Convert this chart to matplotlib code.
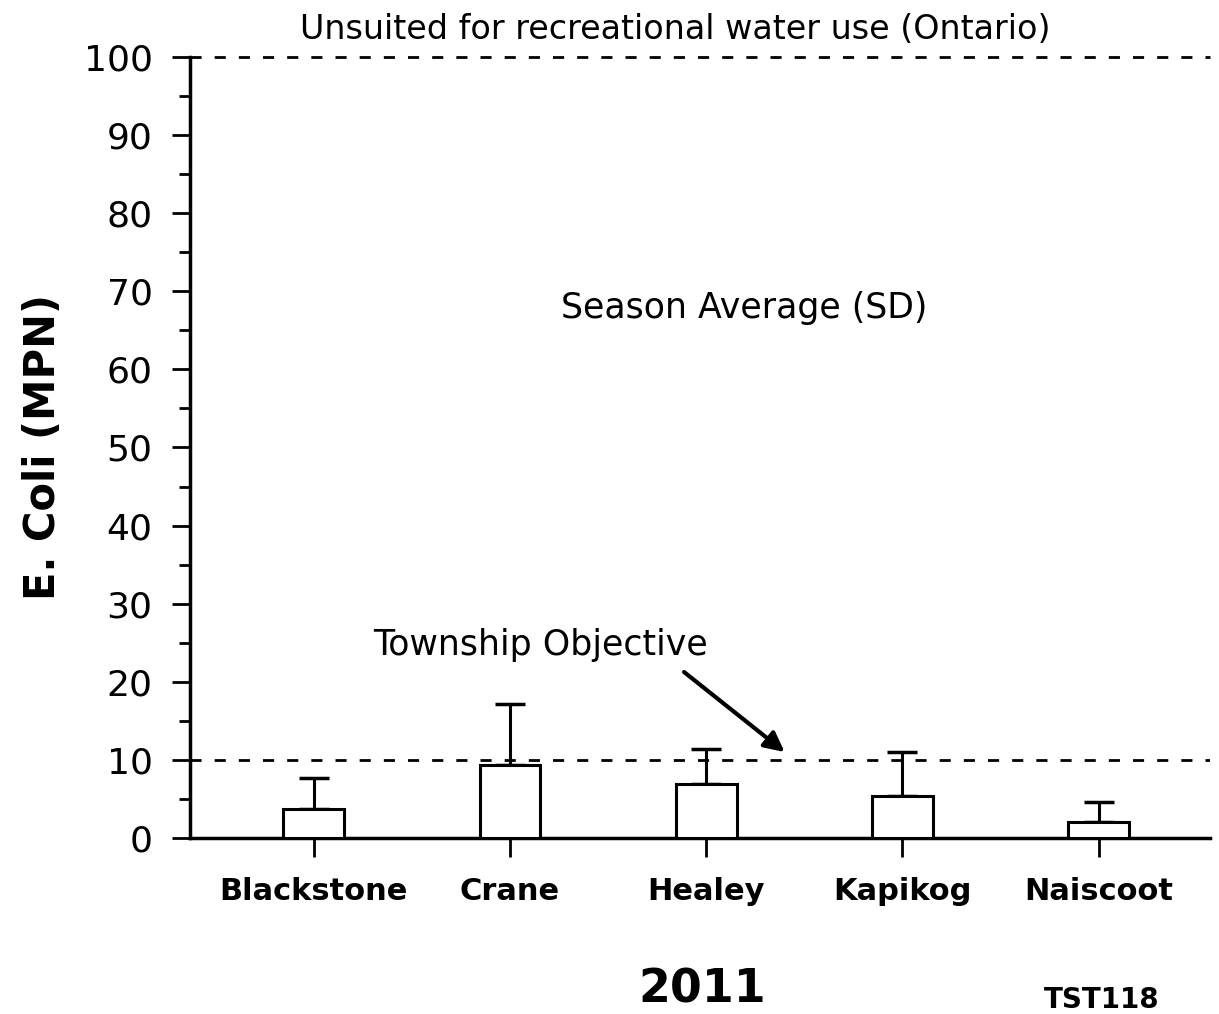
import numpy as np
import matplotlib
matplotlib.use('Agg')
import matplotlib.pyplot as plt

# Datos
lagos = ['Blackstone', 'Crane', 'Healey', 'Kapikog', 'Naiscoot']
promedio = [3.7, 9.3, 6.9, 5.4, 2.0]
desv = [4.0, 7.9, 4.5, 5.6, 2.6]
objetivo = 10
limite = 100

plt.rcParams['font.family'] = ['DejaVu Sans']

fig = plt.figure(figsize=(12.19, 10.14), dpi=100)
ax = fig.add_axes([0.156, 0.1736, 0.837, 0.7702])

x = np.arange(len(lagos))
ax.bar(x, promedio, width=0.31, facecolor='white', edgecolor='black', linewidth=2.2, zorder=3)
ax.errorbar(x, promedio, yerr=[np.zeros(len(desv)), desv], fmt='none', ecolor='black',
            elinewidth=2.2, capsize=11, capthick=2.5, zorder=2)

# lineas de referencia
guion = (0, (4, 4.7))
ax.axhline(objetivo, color='black', linestyle=guion, linewidth=2, zorder=1)
ax.axhline(limite, color='black', linestyle=guion, linewidth=2, clip_on=False, zorder=1)

ax.set_xlim(-0.63, 4.57)
ax.set_ylim(0, 100)
ax.set_yticks(np.arange(0, 101, 10))
ax.set_yticks(np.arange(0, 101, 5), minor=True)
ax.set_xticks(x)
ax.set_xticklabels(lagos, fontsize=22, fontweight='bold')
ax.tick_params(axis='y', which='major', length=13, width=2, labelsize=26, pad=14)
ax.tick_params(axis='y', which='minor', length=8, width=2)
ax.tick_params(axis='x', which='major', length=14, width=2, direction='out', pad=14)

ax.spines['top'].set_visible(False)
ax.spines['right'].set_visible(False)
ax.spines['left'].set_linewidth(2.5)
ax.spines['bottom'].set_linewidth(2.5)

ax.set_ylabel('E. Coli (MPN)', fontsize=30, fontweight='bold', labelpad=14)

fig.text(0.554, 0.971, 'Unsuited for recreational water use (Ontario)',
         ha='center', va='center', fontsize=24)
ax.text(2.195, 67.9, 'Season Average (SD)', ha='center', va='center', fontsize=25)
ax.text(1.154, 24.7, 'Township Objective', ha='center', va='center', fontsize=25)
ax.annotate('', xy=(2.4, 11.0), xytext=(1.887, 21.25),
            arrowprops=dict(arrowstyle='-|>', color='black', lw=3, mutation_scale=30,
                            shrinkA=0, shrinkB=0))

fig.text(0.576, 0.024, '2011', ha='center', va='center', fontsize=33, fontweight='bold')
fig.text(0.904, 0.0138, 'TST118', ha='center', va='center', fontsize=20, fontweight='bold')

fig.savefig('out.png', dpi=100)
